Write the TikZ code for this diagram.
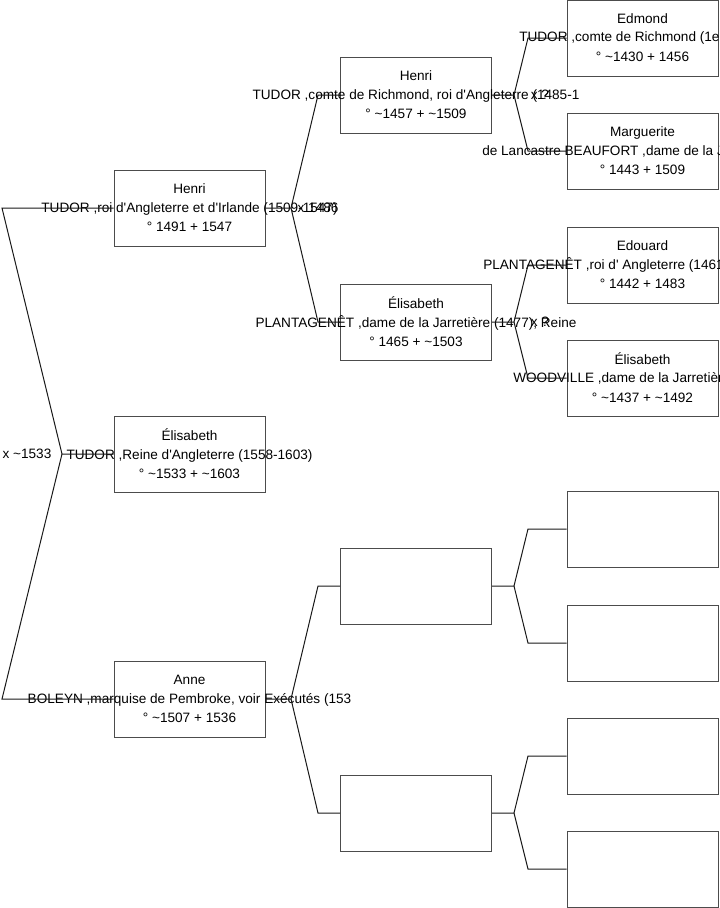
\documentclass[tikz,border=0pt]{standalone}
\usepackage{fontspec}
\newfontfamily\gfont{Liberation Sans}
\newcommand{\abt}{\textasciitilde}
\tikzset{
  pbox/.style={draw=black!70, fill=white, line width=0.75pt,
    minimum width=113.25pt, minimum height=57pt, inner sep=0pt},
  ptxt/.style={font=\gfont\fontsize{10.2}{14.25}\selectfont,
    inner sep=0pt, align=center},
  link/.style={black!90, line width=0.75pt},
}

\begin{document}
\begin{tikzpicture}[x=0.75pt, y=-0.75pt]
  \useasboundingbox (0,0) rectangle (719,908);
  % ---- generation 1 ----
  \node[pbox] at (189.5,208) (H8) {};
  \node[pbox] at (189.5,454) (E1) {};
  \node[pbox] at (189.5,699) (AB) {};
  % ---- generation 2 ----
  \node[pbox] at (416,95)  (H7) {};
  \node[pbox] at (416,322) (EY) {};
  \node[pbox] at (416,586) (X1) {};
  \node[pbox] at (416,813) (X2) {};
  % ---- generation 3 ----
  \node[pbox] at (642.5,38)  (ET) {};
  \node[pbox] at (642.5,151) (MB) {};
  \node[pbox] at (642.5,265) (E4) {};
  \node[pbox] at (642.5,378) (EW) {};
  \node[pbox] at (642.5,529) (X3) {};
  \node[pbox] at (642.5,643) (X4) {};
  \node[pbox] at (642.5,756) (X5) {};
  \node[pbox] at (642.5,869) (X6) {};

  % ---- texts ----
  \node[ptxt] at (H8) (H8t) {Henri\\TUDOR ,roi d'Angleterre et d'Irlande (1509-1547)\\° 1491 + 1547};
  \node[ptxt] at (E1) (E1t) {Élisabeth\\TUDOR ,Reine d'Angleterre (1558-1603)\\° \abt1533 + \abt1603};
  \node[ptxt] at (AB) (ABt) {Anne\\BOLEYN ,marquise de Pembroke, voir Exécutés (153\\° \abt1507 + 1536};
  \node[ptxt] at (H7) (H7t) {Henri\\TUDOR ,comte de Richmond, roi d'Angleterre (1485-1\\° \abt1457 + \abt1509};
  \node[ptxt] at (EY) (EYt) {Élisabeth\\PLANTAGENÊT ,dame de la Jarretière (1477), Reine\\° 1465 + \abt1503};
  % outer column: second line runs off the page
  \node[ptxt] at (ET) (ETt) {Edmond\\ \\° \abt1430 + 1456};
  \node[ptxt, anchor=west] at (519,38) (ETs) {TUDOR ,comte de Richmond (1er};
  \node[ptxt] at (MB) (MBt) {Marguerite\\ \\° 1443 + 1509};
  \node[ptxt, anchor=west] at (482,151) (MBs) {de Lancastre BEAUFORT ,dame de la J};
  \node[ptxt] at (E4) (E4t) {Edouard\\ \\° 1442 + 1483};
  \node[ptxt, anchor=west] at (483,265) (E4s) {PLANTAGENÊT ,roi d' Angleterre (1461-};
  \node[ptxt] at (EW) (EWt) {Élisabeth\\ \\° \abt1437 + \abt1492};
  \node[ptxt, anchor=west] at (513,378) (EWs) {WOODVILLE ,dame de la Jarretièr};

  % ---- marriages ----
  \node[ptxt] at (27,454)  (mE1) {x \abt1533};
  \node[ptxt] at (318,208) (mH8) {x 1486};
  \node[ptxt] at (540,95)  (mH7) {x ?};
  \node[ptxt] at (540,322) (mEY) {x ?};

  % ---- forks ----
  \coordinate (vE1) at (62,454);
  \coordinate (cH8) at (2,208);
  \coordinate (cAB) at (2,699);
  \draw[link] (E1.west) -- (vE1) -- (cH8) -- (H8.west);
  \draw[link] (vE1) -- (cAB) -- (AB.west);

  \coordinate (vH8) at (291,208);
  \coordinate (cH7) at (318,95);
  \coordinate (cEY) at (318,322);
  \draw[link] (H8.east) -- (vH8) -- (cH7) -- (H7.west);
  \draw[link] (vH8) -- (cEY) -- (EY.west);

  \coordinate (vAB) at (291,699);
  \coordinate (cX1) at (318,586);
  \coordinate (cX2) at (318,813);
  \draw[link] (AB.east) -- (vAB) -- (cX1) -- (X1.west);
  \draw[link] (vAB) -- (cX2) -- (X2.west);

  \coordinate (vH7) at (514,95);
  \coordinate (cET) at (528,38);
  \coordinate (cMB) at (528,151);
  \draw[link] (H7.east) -- (vH7) -- (cET) -- (ET.west);
  \draw[link] (vH7) -- (cMB) -- (MB.west);

  \coordinate (vEY) at (514,322);
  \coordinate (cE4) at (528,265);
  \coordinate (cEW) at (528,378);
  \draw[link] (EY.east) -- (vEY) -- (cE4) -- (E4.west);
  \draw[link] (vEY) -- (cEW) -- (EW.west);

  \coordinate (vX1) at (514,586);
  \coordinate (cX3) at (528,529);
  \coordinate (cX4) at (528,643);
  \draw[link] (X1.east) -- (vX1) -- (cX3) -- (X3.west);
  \draw[link] (vX1) -- (cX4) -- (X4.west);

  \coordinate (vX2) at (514,813);
  \coordinate (cX5) at (528,756);
  \coordinate (cX6) at (528,869);
  \draw[link] (X2.east) -- (vX2) -- (cX5) -- (X5.west);
  \draw[link] (vX2) -- (cX6) -- (X6.west);
\end{tikzpicture}
\end{document}
